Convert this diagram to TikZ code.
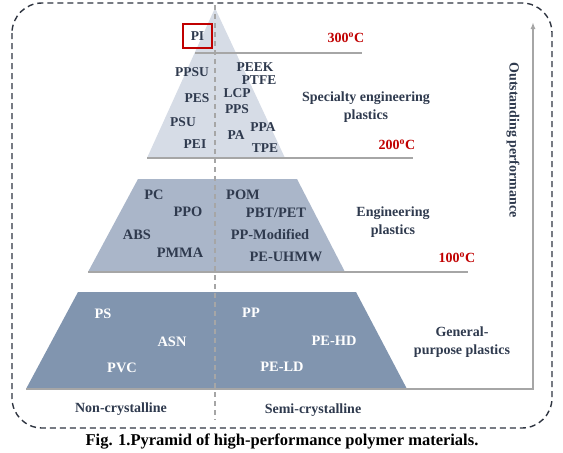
\documentclass[tikz,border=0pt]{standalone}
\usepackage{fontspec}
\setmainfont{Liberation Serif}
\usetikzlibrary{arrows.meta}
\definecolor{txtdark}{HTML}{2F3A4E}
\definecolor{tempred}{HTML}{C00000}
\definecolor{levelgray}{HTML}{A6A6A6}
\definecolor{tierA}{HTML}{D6DCE6}
\definecolor{tierB}{HTML}{AAB6C9}
\definecolor{tierC}{HTML}{8195AF}
\definecolor{frame}{HTML}{2E3440}

\begin{document}
\begin{tikzpicture}[x=1pt, y=-1pt, >={Latex[length=7pt,width=5pt]},
  lbl/.style={font=\fontsize{13.5}{15}\selectfont\bfseries, text=txtdark, inner sep=0pt},
  lblb/.style={lbl, font=\fontsize{14.4}{16}\selectfont\bfseries},
  lblw/.style={lblb, text=white},
  cat/.style={font=\fontsize{14}{18}\selectfont\bfseries, text=txtdark, align=center, inner sep=0pt},
  temp/.style={font=\fontsize{14}{16}\selectfont\bfseries, text=tempred, inner sep=0pt},
  level/.style={draw=levelgray, line width=1.5pt},
  pibox/.style={lbl, draw=tempred, line width=1.5pt, minimum width=29pt, minimum height=24pt}
]
\useasboundingbox (0,0) rectangle (563,453);
% outer frame
\draw[frame, line width=1.4pt, dash pattern=on 6pt off 4pt, rounded corners=30pt] (12,3) rectangle (552,428);
% tiers of the pyramid
\fill[tierC] (78,292) -- (356,292) -- (407,389) -- (26,389) -- cycle;
\fill[tierB] (138,179) -- (297,179) -- (345,272) -- (88,272) -- cycle;
\fill[tierA] (215,8) -- (285,158) -- (147,158) -- cycle;
% crystalline split
\draw[levelgray, line width=1.2pt, dash pattern=on 5pt off 4pt] (215,5) -- (215,420);
% temperature levels
\coordinate (t300a) at (195,53);  \coordinate (t300b) at (362,53);
\coordinate (t200a) at (147,158); \coordinate (t200b) at (413,158);
\coordinate (t100a) at (88,272);  \coordinate (t100b) at (468,272);
\coordinate (t0a) at (26,389);    \coordinate (t0b) at (533,389);
\coordinate (perfTop) at (533,22);
\draw[level] (t300a) -- (t300b);
\draw[level] (t200a) -- (t200b);
\draw[level] (t100a) -- (t100b);
\draw[level, ->] (t0a) -- (t0b) -- (perfTop);
\node[temp] (T300) at (346,38) {300\textsuperscript{o}C};
\node[temp] (T200) at (397,145) {200\textsuperscript{o}C};
\node[temp] (T100) at (457,258) {100\textsuperscript{o}C};
% specialty
\node[pibox] (PI) at (197.5,36) {PI};
\node[lbl] (PPSU) at (192,72) {PPSU};
\node[lbl] (PES) at (197,98) {PES};
\node[lbl] (PSU) at (183,122) {PSU};
\node[lbl] (PEI) at (195,144) {PEI};
\node[lbl] (PEEK) at (255,67) {PEEK};
\node[lbl] (PTFE) at (259,80) {PTFE};
\node[lbl] (LCP) at (237,93) {LCP};
\node[lbl] (PPS) at (237,109) {PPS};
\node[lbl] (PPA) at (263,127) {PPA};
\node[lbl] (PA) at (236,135) {PA};
\node[lbl] (TPE) at (265,148) {TPE};
\node[cat] (catA) at (366,107) {Specialty engineering\\plastics};
% engineering
\node[lblb] (PC) at (154,195) {PC};
\node[lblb] (PPO) at (188,212) {PPO};
\node[lblb] (ABS) at (137,235) {ABS};
\node[lblb] (PMMA) at (180,253) {PMMA};
\node[lblb] (POM) at (243,195) {POM};
\node[lblb] (PBT) at (276,213) {PBT/PET};
\node[lblb] (PPmod) at (270,234) {PP-Modified};
\node[lblb] (PEUHMW) at (286,257) {PE-UHMW};
\node[cat] (catB) at (393,222) {Engineering\\plastics};
% general purpose
\node[lblw] (PS) at (103,314) {PS};
\node[lblw] (ASN) at (172,342) {ASN};
\node[lblw] (PVC) at (122,368) {PVC};
\node[lblw] (PP) at (251,313) {PP};
\node[lblw] (PEHD) at (334,341) {PE-HD};
\node[lblw] (PELD) at (282,367) {PE-LD};
\node[cat] (catC) at (462,342) {General-\\purpose plastics};
% axis texts
\node[cat, rotate=-90] (perf) at (513,140) {Outstanding performance};
\node[cat] (noncr) at (121,409) {Non-crystalline};
\node[cat] (semicr) at (313,410) {Semi-crystalline};
\node[cat, text=black, font=\fontsize{16.5}{19}\selectfont\bfseries] (caption) at (282,442) {Fig. 1.Pyramid of high-performance polymer materials.};
\end{tikzpicture}
\end{document}
